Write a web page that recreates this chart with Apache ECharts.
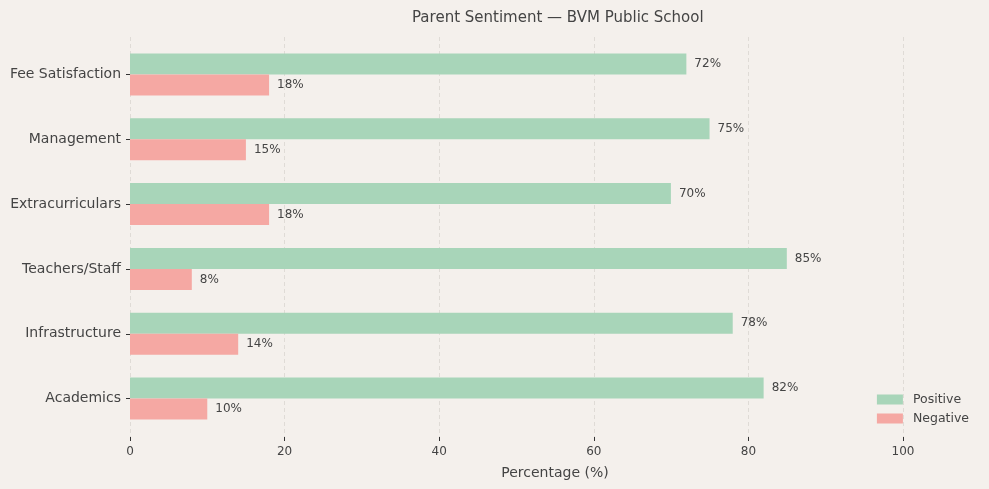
<!DOCTYPE html>
<html><head><meta charset="utf-8">
<script src="https://cdn.jsdelivr.net/npm/echarts@6/dist/echarts.min.js"></script>
<style>html,body{margin:0;padding:0;background:#f4f0ec;}#c{width:989px;height:489px;}</style>
</head><body><div id="c"></div>
<script>
const categories = ['Academics', 'Infrastructure', 'Teachers/Staff', 'Extracurriculars', 'Management', 'Fee Satisfaction'];
const positive = [82, 78, 85, 70, 75, 72];
const negative = [10, 14, 8, 18, 15, 18];
const xTicks = [0, 20, 40, 60, 80, 100];

const chart = echarts.init(document.getElementById('c'));
const txt = '#444';
const lbl = {show: true, position: 'right', distance: 8, formatter: p => p.value + '%', color: txt, fontSize: 12, fontFamily: 'DejaVu Sans'};
chart.setOption({
  backgroundColor: '#f4f0ec',
  animation: false,
  title: {text: 'Parent Sentiment — BVM Public School', left: 407, top: 6,
    textStyle: {color: txt, fontSize: 15, fontWeight: 'normal', fontFamily: 'DejaVu Sans'}},
  legend: {orient: 'vertical', right: 15, top: 388, itemWidth: 26, itemHeight: 10, itemGap: 6, icon: 'rect',
    data: ['Positive', 'Negative'], textStyle: {color: txt, fontSize: 12.5, fontFamily: 'DejaVu Sans', padding: [0, 0, 0, 5]}},
  grid: [
    {left: 130, width: 773, top: 37, height: 400},
    {left: 130, width: 850, top: 42, height: 389}
  ],
  xAxis: [
    {type: 'value', gridIndex: 0, min: 0, max: 100, interval: 20,
     name: 'Percentage (%)', nameLocation: 'middle', nameGap: 29,
     nameTextStyle: {color: txt, fontSize: 14, fontFamily: 'DejaVu Sans', padding: [0, 0, 0, 77]},
     axisLine: {show: false}, axisTick: {show: true, length: 4, lineStyle: {color: '#333'}},
     axisLabel: {color: txt, fontSize: 12, fontFamily: 'DejaVu Sans', margin: 9},
     splitLine: {show: true, lineStyle: {color: '#d9d5d1', type: [4, 3], width: 0.8}}},
    {type: 'value', gridIndex: 1, min: 0, max: 110, show: false, splitLine: {show: false}}
  ],
  yAxis: [
    {type: 'category', gridIndex: 0, show: false, data: categories},
    {type: 'category', gridIndex: 1, data: categories,
     axisLine: {show: false}, axisTick: {show: true, length: 4, alignWithLabel: true, lineStyle: {color: '#333'}},
     axisLabel: {color: txt, fontSize: 14, fontFamily: 'DejaVu Sans', margin: 9, padding: [2, 0, 0, 0]}}
  ],
  series: [
    {name: 'Positive', type: 'bar', xAxisIndex: 1, yAxisIndex: 1, data: positive, barWidth: 21, barGap: '0%',
     itemStyle: {color: '#a8d5b9'}, label: lbl},
    {name: 'Negative', type: 'bar', xAxisIndex: 1, yAxisIndex: 1, data: negative, barWidth: 21, barGap: '0%',
     itemStyle: {color: '#f5a8a3'}, label: lbl}
  ]
});
</script></body></html>
